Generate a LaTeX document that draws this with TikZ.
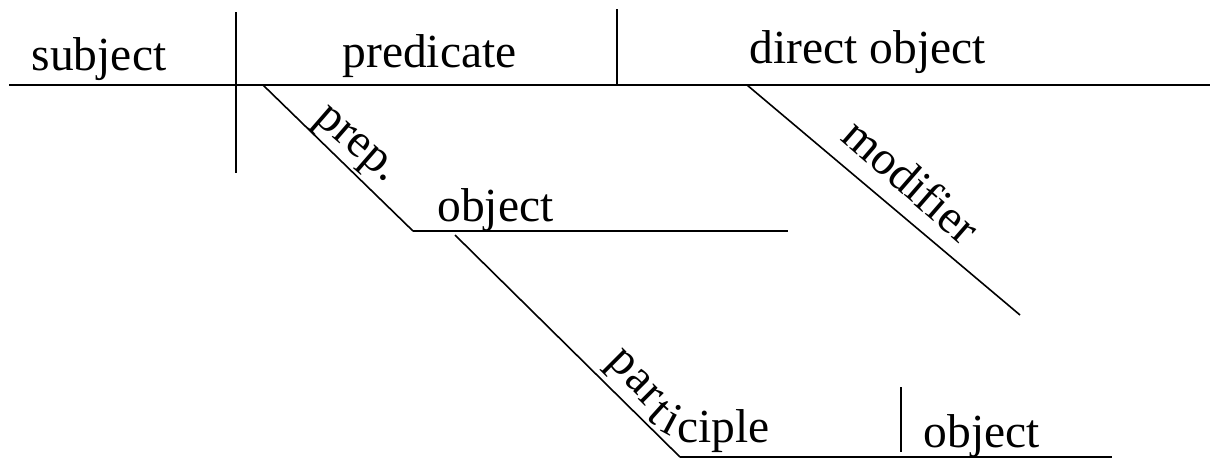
\documentclass[tikz,border=0pt]{standalone}
\usepackage{fontspec}
\setmainfont{Liberation Serif}
\newcommand{\diagfont}{\fontsize{47.5}{57}\selectfont}

\begin{document}
\begin{tikzpicture}[x=1pt,y=1pt]
        \tikzset{baseline rule/.style={black, line width=2.4pt},
                 slant rule/.style={black, line width=1.6pt},
                 word/.style={font=\diagfont, inner sep=0pt, anchor=base},
                 tilted/.style={word, rotate=#1}}
        \useasboundingbox (0,0) rectangle (1210,-459);
        % main line and its dividers
        \coordinate (mainL) at (9,-85);
        \coordinate (mainR) at (1210,-85);
        \coordinate (subjT) at (236,-12);
        \coordinate (subjB) at (236,-173);
        \coordinate (predT) at (617,-9);
        \coordinate (predB) at (617,-85);
        \draw [baseline rule] (mainL) -- (mainR);
        \draw [black, line width=2pt] (subjT) -- (subjB);
        \draw [black, line width=2pt] (predT) -- (predB);
        \node [word] (subj) at (99,-70) {subject};
        \node [word] (pred) at (429.5,-67) {predicate};
        \node [word] (dobj) at (867.5,-63) {direct object};
        % prepositional phrase
        \coordinate (prepT) at (263,-85);
        \coordinate (prepB) at (413,-231);
        \coordinate (pobjR) at (788,-231);
        \draw [slant rule] (prepT) -- (prepB);
        \draw [black, line width=2pt] (prepB) -- (pobjR);
        \node [tilted=-41] (prep) at (350,-152) {prep.};
        \node [word] (pobj) at (495.5,-221) {object};
        % modifier of the direct object
        \coordinate (modT) at (747,-85);
        \coordinate (modB) at (1020,-315);
        \draw [slant rule] (modT) -- (modB);
        \node [tilted=-41] (mod) at (901,-193) {modifier};
        % participle phrase, the word bends onto its line
        \coordinate (partT) at (455,-235);
        \coordinate (partB) at (680,-457);
        \coordinate (partE) at (1112,-457);
        \coordinate (dvT) at (901,-387);
        \coordinate (dvB) at (901,-452);
        \draw [slant rule] (partT) -- (partB);
        \draw [black, line width=2pt] (partB) -- (partE);
        \draw [black, line width=2pt] (dvT) -- (dvB);
        \node [tilted=-45] (letP) at (615,-371) {p};
        \node [tilted=-45] (letA) at (631,-389) {a};
        \node [tilted=-45] (letR) at (643,-404) {r};
        \node [tilted=-42] (letT) at (650,-422) {t};
        \node [tilted=-28] (letI) at (665,-434) {i};
        \node [word, anchor=base west] (letC) at (677,-442) {ciple};
        \node [word] (cobj) at (982,-447) {object};
\end{tikzpicture}
\end{document}
